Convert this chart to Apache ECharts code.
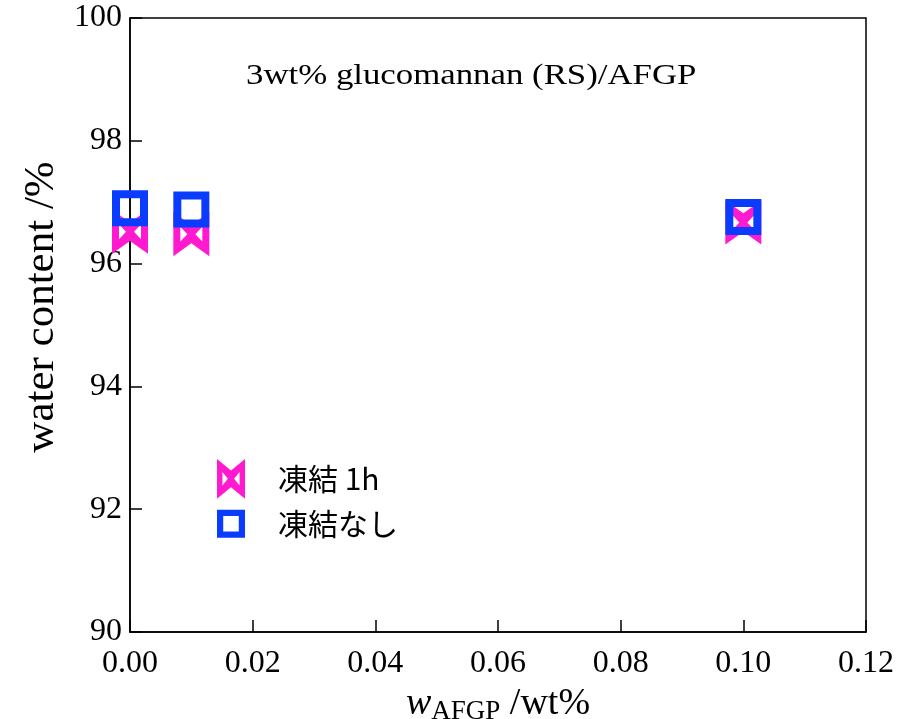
<!DOCTYPE html>
<html>
<head>
<meta charset="utf-8">
<script src="https://cdn.jsdelivr.net/npm/echarts@6/dist/echarts.min.js"></script>
<style>
  html, body { margin: 0; padding: 0; background: #fff; }
  #chart { width: 899px; height: 719px; }
</style>
</head>
<body>
<div id="chart"></div>
<script>
// AFGP concentration (wt%) and water content (%) of 3wt% glucomannan gels
const afgpConc = [0.00, 0.01, 0.10];
const waterFrozen1h = [96.52, 96.48, 96.67];
const waterUnfrozen = [96.90, 96.88, 96.76];
const seriesNames = ['凍結 1h', '凍結なし'];
const xTicks = [0, 0.02, 0.04, 0.06, 0.08, 0.10, 0.12];
const yTicks = [90, 92, 94, 96, 98, 100];

const serif = '"Liberation Serif", "DejaVu Serif", serif';
const jp = '"Noto Sans CJK JP", "Noto Sans", sans-serif';

// bow-tie marker (36 wide, h tall) with two small triangular openings wound in reverse
function bowtiePath(h) {
  const n = h * 0.29, c = h / 2, d = h * 0.17;
  return 'path://M0,0 L18,' + n + ' L36,0 L36,' + h + ' L18,' + (h - n) + ' L0,' + h + ' Z ' +
         'M7,' + (c - d) + ' L7,' + (c + d) + ' L14,' + c + ' Z ' +
         'M29,' + (c - d) + ' L22,' + c + ' L29,' + (c + d) + ' Z';
}
// open square: outer outline with a reversed inner outline
const openSquare = 'path://M0,0 L36,0 L36,36 L0,36 Z M8,8 L8,28 L28,28 L28,8 Z';

const magenta = '#ff1ad0';
const blue = '#0a3cff';

const chart = echarts.init(document.getElementById('chart'));
chart.setOption({
  animation: false,
  backgroundColor: '#ffffff',
  grid: {
    left: 130, right: 33, top: 18, bottom: 87,
    outerBoundsMode: 'none',
    show: true, borderColor: '#000', borderWidth: 1.5, backgroundColor: 'transparent'
  },
  graphic: [{
    type: 'text',
    left: 246, top: 62,
    scaleX: 1.2,
    style: {
      text: '3wt% glucomannan (RS)/AFGP',
      font: '29px "Liberation Serif", "DejaVu Serif", serif',
      fill: '#000'
    }
  }],
  legend: {
    orient: 'vertical',
    left: 212, top: 454,
    itemWidth: 28, itemHeight: 40, itemGap: 10,
    data: [
      { name: seriesNames[0], icon: bowtiePath(51) },
      { name: seriesNames[1], icon: openSquare }
    ],
    textStyle: { fontFamily: jp, fontSize: 30, color: '#000', padding: [0, 0, 0, 28] }
  },
  xAxis: {
    type: 'value',
    min: xTicks[0], max: xTicks[xTicks.length - 1], interval: 0.02,
    name: '{i|w}{s|AFGP}{n| /wt%}',
    nameLocation: 'middle', nameGap: 38,
    nameTextStyle: {
      rich: {
        i: { fontFamily: serif, fontStyle: 'italic', fontSize: 38, color: '#000' },
        s: { fontFamily: serif, fontSize: 27, color: '#000', padding: [16, 0, 0, 0] },
        n: { fontFamily: serif, fontSize: 38, color: '#000' }
      }
    },
    axisLine: { lineStyle: { color: '#000', width: 1.5 } },
    axisTick: { inside: true, length: 12, lineStyle: { color: '#000', width: 1.5 } },
    axisLabel: {
      fontFamily: serif, fontSize: 32, color: '#000', margin: 16,
      formatter: v => v.toFixed(2)
    },
    splitLine: { show: false }
  },
  yAxis: {
    type: 'value',
    min: yTicks[0], max: yTicks[yTicks.length - 1], interval: 2,
    name: 'water content /%',
    nameLocation: 'middle', nameGap: 66,
    nameTextStyle: { fontFamily: serif, fontSize: 43, color: '#000', padding: [0, 0, 0, 36] },
    axisLine: { lineStyle: { color: '#000', width: 1.5 } },
    axisTick: { inside: true, length: 12, lineStyle: { color: '#000', width: 1.5 } },
    axisLabel: { fontFamily: serif, fontSize: 32, color: '#000', margin: 8 },
    splitLine: { show: false }
  },
  series: [
    {
      name: seriesNames[0],
      type: 'scatter',
      symbol: bowtiePath(44),
      symbolSize: [36, 44],
      itemStyle: { color: magenta, opacity: 1 },
      data: afgpConc.map((x, i) => [x, waterFrozen1h[i]])
    },
    {
      name: seriesNames[1],
      type: 'scatter',
      symbol: openSquare,
      symbolSize: 36,
      itemStyle: { color: blue, opacity: 1 },
      data: afgpConc.map((x, i) => [x, waterUnfrozen[i]])
    }
  ]
});
</script>
</body>
</html>
